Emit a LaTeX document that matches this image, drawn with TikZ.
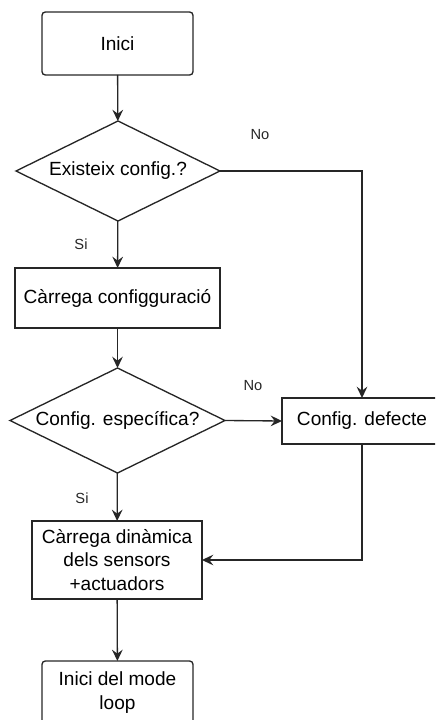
\documentclass[tikz,border=0pt]{standalone}
\usepackage{fontspec}
\setmainfont{Liberation Sans}
\usetikzlibrary{shapes.geometric,arrows.meta}
\begin{document}
\begin{tikzpicture}[x=0.75pt,y=-0.75pt,
  font=\fontsize{14.3pt}{17.6pt}\selectfont,
  every node/.style={inner sep=0pt, outer sep=0pt, align=center},
  flow/.style={line width=1pt, draw=black!85},
  termbox/.style={flow, rectangle, rounded corners=2.5pt, minimum width=113.25pt, minimum height=47.25pt},
  procbox/.style={flow, rectangle},
  decision/.style={flow, diamond},
  lbl/.style={font=\fontsize{11pt}{13pt}\selectfont, text=black!85},
  conn/.style={line width=1pt, draw=black!85, -{Stealth[length=8.5pt,width=8pt,inset=3pt]}}
]
\useasboundingbox (0,0) rectangle (435,720);
\clip (0,0) rectangle (435,720);

% nodes
\node[termbox] (inici) at (117.5,43.5) {Inici};
\node[decision, aspect=2.04, minimum width=153pt, minimum height=75pt] (d1) at (118,171) {Existeix config.?};
\node[procbox, minimum width=153.75pt, minimum height=45pt] (carr) at (117.5,298) {Càrrega configguració};
\node[decision, aspect=2.05, minimum width=161.25pt, minimum height=78.75pt] (d2) at (117.5,420.5) {Config. específica?};
\node[procbox, minimum width=120pt, minimum height=34.5pt] (def) at (362,421) {Config. defecte};
\node[procbox, minimum width=127.5pt, minimum height=58.5pt] (din) at (117,560) {Càrrega dinàmica\\dels sensors\\+actuadors};
\node[termbox] (loop) at (117.5,692.5) {Inici del mode\\loop};

% branch labels
\node[lbl] (no1) at (260,135) {No};
\node[lbl] (si1) at (81,244) {Si};
\node[lbl] (no2) at (253,386) {No};
\node[lbl] (si2) at (82,498) {Si};

% connectors
\draw[conn] (inici) -- (d1);
\draw[conn] (d1.east) -| (def.north);
\draw[conn] (d1) -- (carr);
\draw[conn] (carr) -- (d2);
\draw[conn] (d2.east) -- (def.west);
\draw[conn] (d2) -- (din);
\draw[conn] (def.south) |- (din.east);
\draw[conn] (din) -- (loop);
\end{tikzpicture}
\end{document}
